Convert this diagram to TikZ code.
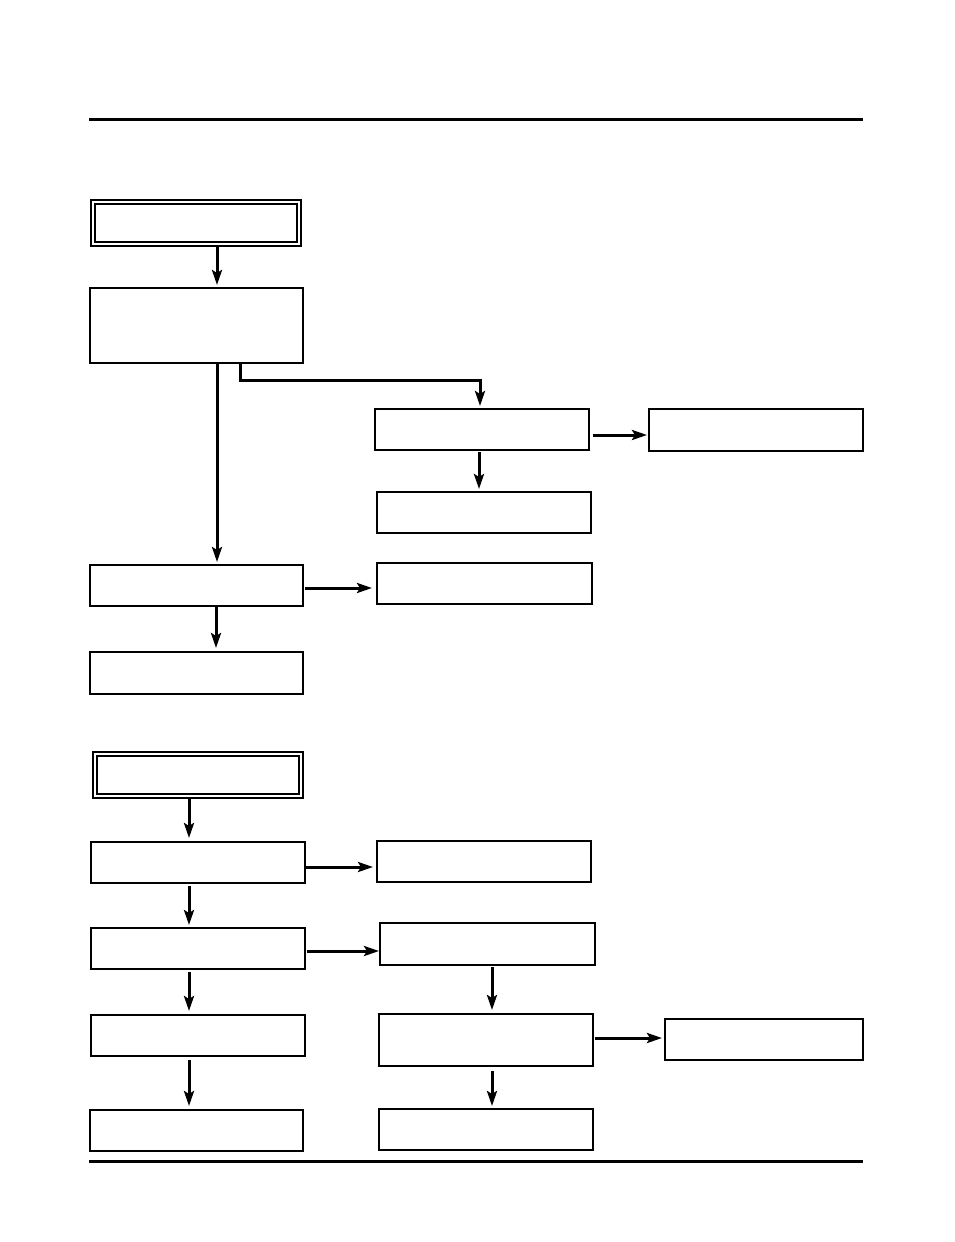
\documentclass[tikz,border=0pt]{standalone}
\usetikzlibrary{arrows.meta}
\tikzset{
    box/.style={draw,line width=1.3pt,inner sep=0pt,outer sep=0pt},
    dbox/.style={draw,line width=2pt,double,double distance=2pt,inner sep=0pt,outer sep=0pt},
    flowarrow/.style={draw,line width=3pt,-{Stealth[length=15pt,width=10pt,inset=3pt]}},
    flowline/.style={draw,line width=3pt},
    pagerule/.style={draw,line width=3pt}
}
\begin{document}
\begin{tikzpicture}[x=1pt,y=-1pt]
    \useasboundingbox (0,0) rectangle (954,1242);
    \draw[pagerule] (89,119) -- (863,119);
    \draw[pagerule] (89,1161) -- (863,1161);
    % first chart
    \node[dbox,minimum width=206pt,minimum height=42pt] (head1) at (196,223) {};
    \node[box,minimum width=213pt,minimum height=75pt] (start) at (196.5,325.5) {};
    \node[box,minimum width=214pt,minimum height=41pt] (side) at (482,429.5) {};
    \node[box,minimum width=214pt,minimum height=42pt] (sideR) at (756,430) {};
    \node[box,minimum width=214pt,minimum height=41pt] (sideD) at (484,512.5) {};
    \node[box,minimum width=213pt,minimum height=41pt] (mid) at (196.5,585.5) {};
    \node[box,minimum width=215pt,minimum height=41pt] (midR) at (484.5,583.5) {};
    \node[box,minimum width=213pt,minimum height=42pt] (last) at (196.5,673) {};
    \draw[flowarrow,shorten <=1pt,shorten >=3pt] ([xshift=21pt]head1.south) -- ([xshift=20.5pt]start.north);
    \draw[flowarrow,shorten <=1pt,shorten >=3pt] ([xshift=20.5pt]start.south) -- ([xshift=20.5pt]mid.north);
    \coordinate (kink) at (480,380);
    \draw[flowline] ([xshift=43.5pt]start.south) |- ([xshift=1.5pt]kink);
    \draw[flowarrow,shorten >=3pt] ([yshift=1.5pt]kink) -- ([xshift=-2pt]side.north);
    \draw[flowarrow,shorten <=2pt,shorten >=3pt] ([xshift=-3pt]side.south) -- ([xshift=-5pt]sideD.north);
    \draw[flowarrow,shorten <=4pt,shorten >=2pt] ([yshift=-5.5pt]side.east) -- ([yshift=-5pt]sideR.west);
    \draw[flowarrow,shorten <=2pt,shorten >=5pt] ([yshift=-2.5pt]mid.east) -- ([yshift=-4.5pt]midR.west);
    \draw[flowarrow,shorten <=1pt,shorten >=4pt] ([xshift=19.5pt]mid.south) -- ([xshift=19.5pt]last.north);
    % second chart
    \node[dbox,minimum width=206pt,minimum height=42pt] (head2) at (198,775) {};
    \node[box,minimum width=214pt,minimum height=41pt] (s1) at (198,862.5) {};
    \node[box,minimum width=214pt,minimum height=41pt] (s1R) at (484,861.5) {};
    \node[box,minimum width=214pt,minimum height=41pt] (s2) at (198,948.5) {};
    \node[box,minimum width=215pt,minimum height=42pt] (s2R) at (487.5,944) {};
    \node[box,minimum width=214pt,minimum height=41pt] (s3) at (198,1035.5) {};
    \node[box,minimum width=214pt,minimum height=52pt] (s3R) at (486,1040) {};
    \node[box,minimum width=198pt,minimum height=41pt] (s3RR) at (764,1039.5) {};
    \node[box,minimum width=213pt,minimum height=41pt] (s4) at (196.5,1130.5) {};
    \node[box,minimum width=214pt,minimum height=41pt] (s4R) at (486,1129.5) {};
    \draw[flowarrow,shorten <=1pt,shorten >=4pt] ([xshift=-9pt]head2.south) -- ([xshift=-9pt]s1.north);
    \draw[flowarrow,shorten <=1pt,shorten >=4pt] ([yshift=-4.5pt]s1.east) -- ([yshift=-5.5pt]s1R.west);
    \draw[flowarrow,shorten <=3pt,shorten >=3pt] ([xshift=-9pt]s1.south) -- ([xshift=-9pt]s2.north);
    \draw[flowarrow,shorten <=2pt,shorten >=1pt] ([yshift=-2.5pt]s2.east) -- ([yshift=-7pt]s2R.west);
    \draw[flowarrow,shorten <=2pt,shorten >=4pt] ([xshift=4.5pt]s2R.south) -- ([xshift=6pt]s3R.north);
    \draw[flowarrow,shorten <=3pt,shorten >=4pt] ([xshift=-9pt]s2.south) -- ([xshift=-9pt]s3.north);
    \draw[flowarrow,shorten <=2pt,shorten >=3pt] ([yshift=2pt]s3R.east) -- ([yshift=1.5pt]s3RR.west);
    \draw[flowarrow,shorten <=4pt,shorten >=4pt] ([xshift=-9pt]s3.south) -- ([xshift=-7.5pt]s4.north);
    \draw[flowarrow,shorten <=5pt,shorten >=3pt] ([xshift=6pt]s3R.south) -- ([xshift=6pt]s4R.north);
\end{tikzpicture}
\end{document}
